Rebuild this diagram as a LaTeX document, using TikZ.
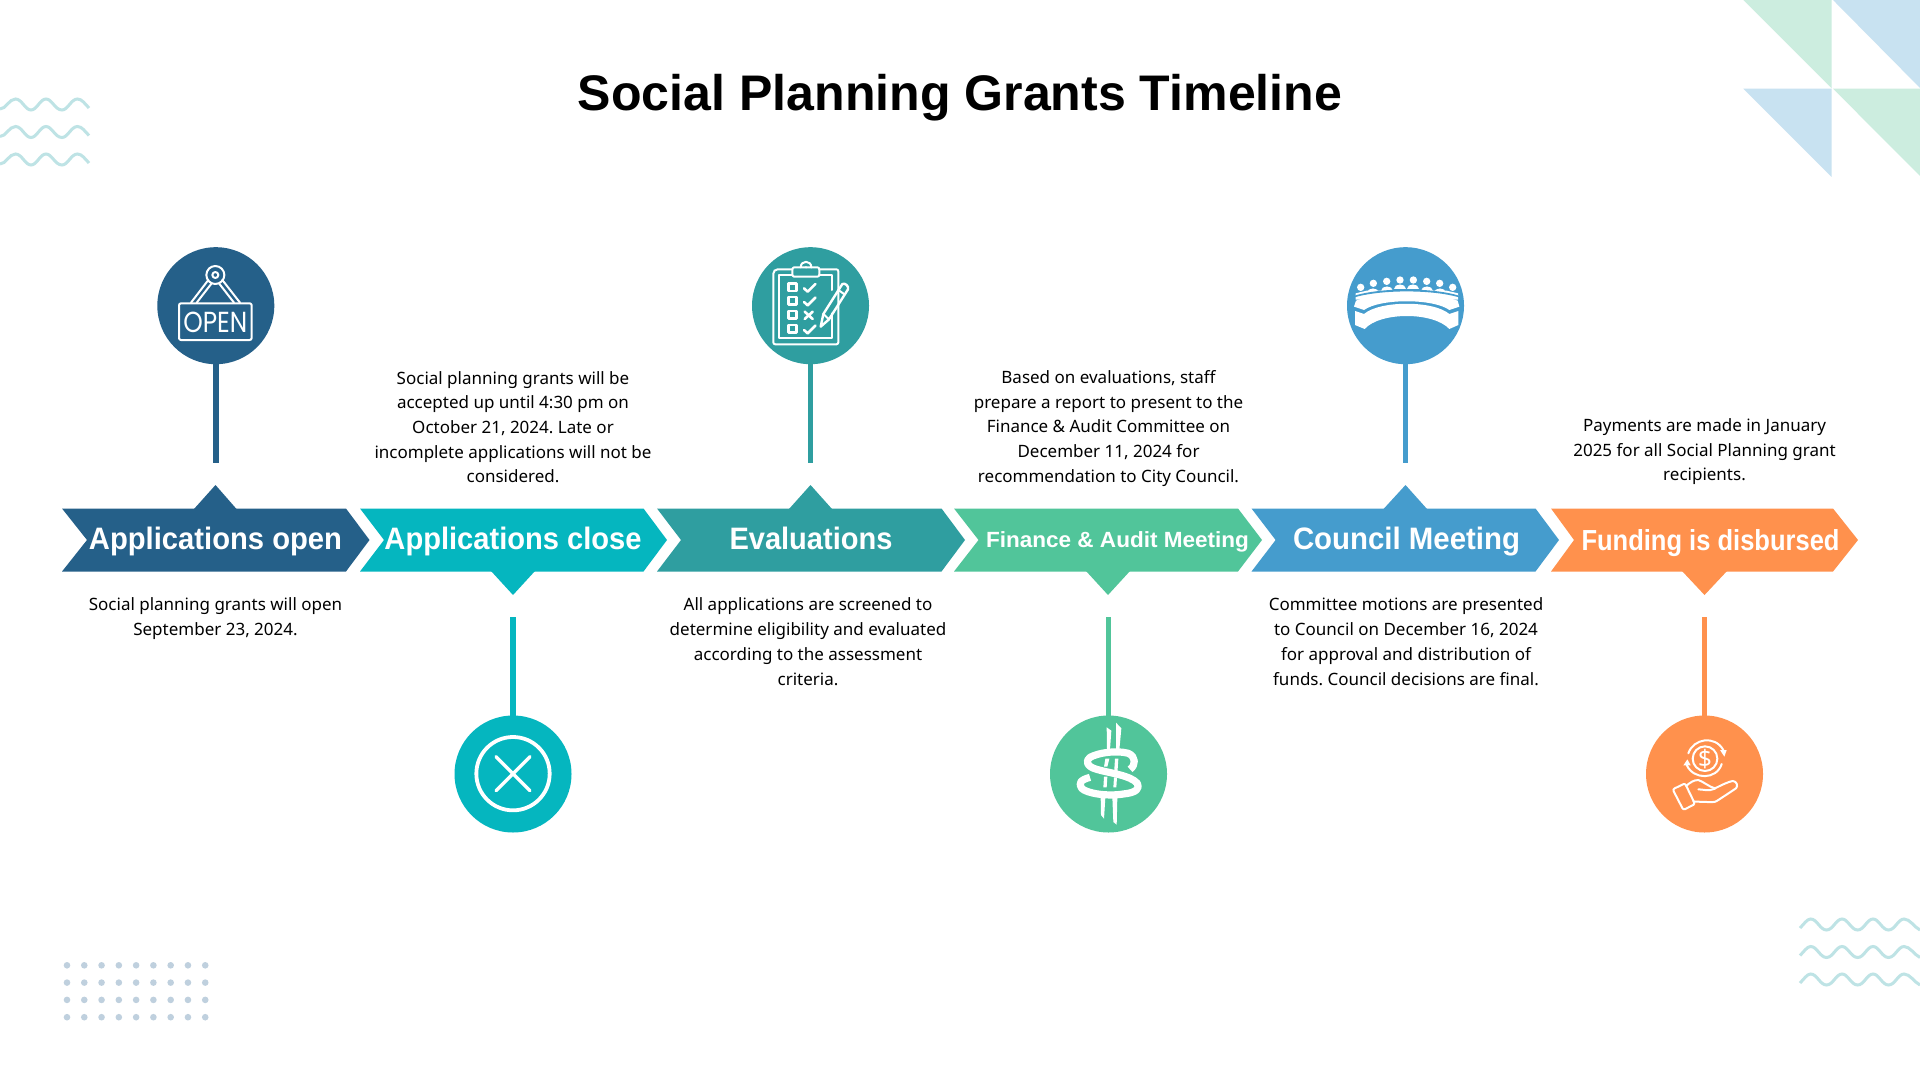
\documentclass[tikz,border=0pt]{standalone}
\usepackage{fontspec}
\usetikzlibrary{arrows.meta}
\setmainfont{Noto Sans}
\newfontfamily\headfont{Liberation Sans}
\newfontfamily\signfont{Poppins}
\definecolor{cA}{HTML}{256089}
\definecolor{cB}{HTML}{05B6BF}
\definecolor{cC}{HTML}{2F9EA0}
\definecolor{cD}{HTML}{51C59A}
\definecolor{cE}{HTML}{459CCD}
\definecolor{cF}{HTML}{FF914D}
\definecolor{waveC}{HTML}{BEE3E5}
\definecolor{dotC}{HTML}{BFD0DE}
\definecolor{triG}{HTML}{CCEDDF}
\definecolor{triB}{HTML}{C8E2F1}
\tikzset{
  bubble/.style={circle,fill=#1,minimum size=58.5pt,inner sep=0pt,outer sep=0pt},
  stem/.style={draw=#1,line width=2.9pt},
  body/.style={align=center,inner sep=0pt,font=\fontsize{8.5}{12.35}\selectfont\frenchspacing,text=black},
  lab/.style={inner sep=0pt,anchor=base,text=white,font=\fontsize{#1}{#1}\selectfont\headfont\bfseries},
  wave/.style={draw=waveC,line width=1.5pt},
  ink/.style={draw=white,line width=1pt,line cap=round,line join=round},
  icon3/.style={x=0.16667pt,y=-0.16667pt},
}
\newcommand\fitw[2]{\resizebox{#1}{\height}{#2}}
\begin{document}
\begin{tikzpicture}[x=0.5pt,y=-0.5pt]
\useasboundingbox (0,0) rectangle (1920,1080);
\fill[white] (0,0) rectangle (1920,1080);
% corner triangles
\fill[triG] (1743.3,0) -- (1831.7,0) -- (1831.7,88.3) -- cycle;
\fill[triB] (1833,0) -- (1920,0) -- (1920,88) -- cycle;
\fill[triB] (1743.3,88.7) -- (1831.7,88.7) -- (1831.7,177) -- cycle;
\fill[triG] (1833,88.7) -- (1920,88.7) -- (1920,176) -- cycle;
% waves
\foreach \y in {0,27.5,55}{
  \draw[wave,yshift=-\y*0.5pt] (0,109) .. controls (6,109) and (9,99) .. (15.5,99) .. controls (22,99) and (25,110) .. (31,110) .. controls (37,110) and (40,99) .. (46,99) .. controls (52,99) and (55,110) .. (62,110) .. controls (68,110) and (71,99) .. (77.5,99) .. controls (82,99) and (85,104) .. (89,108);
}
\foreach \y in {0,27.5,55}{
  \draw[wave,yshift=-\y*0.5pt] (1800,928) .. controls (1804,924) and (1807,919) .. (1810.7,919) .. controls (1817,919) and (1820,930) .. (1826.5,930) .. controls (1833,930) and (1836,919) .. (1842,919) .. controls (1848,919) and (1851,930) .. (1857.7,930) .. controls (1864,930) and (1867,919) .. (1873,919) .. controls (1879,919) and (1882,930) .. (1888.5,930) .. controls (1895,930) and (1898,919) .. (1904,919) .. controls (1910,919) and (1914,927) .. (1920,930);
}
% dots
\foreach \i in {0,...,8}\foreach \j in {0,...,3}
  \fill[dotC] (67+\i*17.28,965.3+\j*17.3) circle (3.3);
% title
\node[inner sep=0pt,anchor=base] (title) at (960,110.5) {\headfont\bfseries\fontsize{25}{25}\selectfont\resizebox{382pt}{\height}{Social Planning Grants Timeline}};
% chevrons
\fill[cA] (62,508.5) -- (346,508.5) -- (369.5,540) -- (346,571.5) -- (62,571.5) -- (87,540) -- cycle;
\fill[cA] (194,509) -- (215.5,485) -- (236.5,509) -- cycle;
\fill[cB] (360,508.5) -- (643.5,508.5) -- (667,540) -- (643.5,571.5) -- (360,571.5) -- (384,540) -- cycle;
\fill[cB] (491,571) -- (513,595) -- (535,571) -- cycle;
\fill[cC] (657,508.5) -- (941.5,508.5) -- (965,540) -- (941.5,571.5) -- (657,571.5) -- (681,540) -- cycle;
\fill[cC] (789,509) -- (810.5,485) -- (832,509) -- cycle;
\fill[cD] (954,508.5) -- (1238,508.5) -- (1262,540) -- (1238,571.5) -- (954,571.5) -- (978.5,540) -- cycle;
\fill[cD] (1086,571) -- (1108,595) -- (1130,571) -- cycle;
\fill[cE] (1251.5,508.5) -- (1535.5,508.5) -- (1559,540) -- (1535.5,571.5) -- (1251.5,571.5) -- (1275.6,540) -- cycle;
\fill[cE] (1383.5,509) -- (1405.5,485) -- (1427,509) -- cycle;
\fill[cF] (1551,508.5) -- (1833,508.5) -- (1858,540) -- (1833,571.5) -- (1551,571.5) -- (1574,540) -- cycle;
\fill[cF] (1682,571) -- (1704.5,595) -- (1727,571) -- cycle;
% chevron labels
\node[lab=15.5] (l1) at (215.5,549.5) {\fitw{126.5pt}{Applications open}};
\node[lab=15.5] (l2) at (513,549.5) {\fitw{128.5pt}{Applications close}};
\node[lab=15.5] (l3) at (811,549.5) {\fitw{81.5pt}{Evaluations}};
\node[lab=11] (l4) at (1117.5,547) {\fitw{131.5pt}{Finance \& Audit Meeting}};
\node[lab=15.5] (l5) at (1406.5,549.5) {\fitw{113.5pt}{Council Meeting}};
\node[lab=14.5] (l6) at (1710.5,550.5) {\fitw{129pt}{Funding is disbursed}};
% body text
\node[body] (t1) at (215.5,618.4) {Social planning grants will open\\September 23, 2024.};
\node[body] (t2) at (513,427.2) {Social planning grants will be\\accepted up until 4:30 pm on\\October 21, 2024. Late or\\incomplete applications will not be\\considered.};
\node[body] (t3) at (808,641.7) {All applications are screened to\\determine eligibility and evaluated\\according to the assessment\\criteria.};
\node[body] (t4) at (1108.5,428.4) {Based on evaluations, staff\\prepare a report to present to the\\Finance \& Audit Committee on\\December 11, 2024 for\\recommendation to City Council.};
\node[body] (t5) at (1406,641.7) {Committee motions are presented\\to Council on December 16, 2024\\for approval and distribution of\\funds. Council decisions are final.};
\node[body] (t6) at (1704.5,451.7) {Payments are made in January\\2025 for all Social Planning grant\\recipients.};
% bubbles and stems
\node[bubble=cA] (c1) at (215.8,305.7) {};
\node[bubble=cB] (c2) at (513,774) {};
\node[bubble=cC] (c3) at (810.5,305.7) {};
\node[bubble=cD] (c4) at (1108.5,774) {};
\node[bubble=cE] (c5) at (1405.5,305.7) {};
\node[bubble=cF] (c6) at (1704.5,774) {};
\coordinate (e1) at (215.8,462.5);
\coordinate (e2) at (513,617);
\coordinate (e3) at (810.5,462.5);
\coordinate (e4) at (1108.5,617);
\coordinate (e5) at (1405.5,462.5);
\coordinate (e6) at (1704.5,617);
\draw[stem=cA] (c1) -- (e1);
\draw[stem=cB] (c2) -- (e2);
\draw[stem=cC] (c3) -- (e3);
\draw[stem=cD] (c4) -- (e4);
\draw[stem=cE] (c5) -- (e5);
\draw[stem=cF] (c6) -- (e6);
% OPEN sign
\begin{scope}[shift={(130,230)},icon3]
\draw[ink] (256,135) circle (27);
\draw[ink] (256,135) circle (9);
\draw[ink,rounded corners=1pt] (147,220) rectangle (365,330);
\draw[ink] (235,150) -- (183,218) (245,160) -- (200,218);
\draw[ink] (277,150) -- (330,218) (267,160) -- (312,218);
\node[inner sep=0pt,text=white] (opn) at (256,276) {\signfont\fontsize{14.5}{14.5}\selectfont\resizebox{32pt}{\height}{OPEN}};
\end{scope}
% clipboard
\begin{scope}[shift={(730,230)},icon3]
\draw[ink,rounded corners=1pt] (187,118) -- (137,118) -- (130,125) -- (130,343) -- (325,343) -- (325,118) -- (268,118);
\draw[ink] (187,135) -- (148,135) -- (148,325) -- (305,325) -- (305,250);
\draw[ink] (305,180) -- (305,135) -- (268,135);
\draw[ink,rounded corners=1pt] (187,112) rectangle (268,140);
\draw[ink] (212,112) .. controls (212,90) and (244,90) .. (244,112);
\fill[white] (228,112) circle (3.5);
\foreach \yy in {160,201,243,285}
  \draw[ink,line width=1.2pt] (176,\yy) rectangle (200,\yy+23);
\foreach \yy in {160,201,285}
  \draw[ink,line width=1.3pt] (222,\yy+15) -- (233,\yy+25) -- (256,\yy+2);
\draw[ink,line width=1.3pt] (224,245) -- (248,267) (248,245) -- (224,267);
\draw[ink,line width=1.2pt] (272,290) -- (280,252) -- (337,162) .. controls (345,158) and (357,168) .. (354,178) -- (297,268) -- cycle;
\draw[ink] (280,252) -- (297,268) (325,180) -- (342,192);
\end{scope}
% council table
\begin{scope}[shift={(1330,230)},icon3]
\foreach \xx/\yy in {92/172,130/160,170/154,210/150,250/150,290/154,329/160,368/172}{
  \fill[white] (\xx,\yy) circle (11);
  \fill[white] (\xx-18,\yy+28) .. controls (\xx-18,\yy+10) and (\xx+18,\yy+10) .. (\xx+18,\yy+28) -- cycle;
}
\fill[white] (77,209) -- (77,190) -- (110,182) -- (350,182) -- (384,190) -- (384,209) -- cycle;
\fill[cE] (70,198) .. controls (150,172) and (310,172) .. (390,198) -- (390,203) .. controls (310,178) and (150,178) .. (70,203) -- cycle;
\fill[white] (78,212) .. controls (150,184) and (305,184) .. (383,212) -- (388,230) -- (358,240) .. controls (310,205) and (150,205) .. (102,240) -- (72,230) -- cycle;
\fill[white] (75,243) -- (102,252) .. controls (150,211) and (310,211) .. (358,252) -- (385,243) -- (385,285) -- (358,297) .. controls (310,245) and (150,245) .. (104,297) -- (75,285) -- cycle;
\end{scope}
% close icon
\begin{scope}[shift={(440,700)},icon3]
\draw[ink,line width=1.9pt] (219,221) circle (110);
\draw[ink,line width=1.7pt] (168,170) -- (270,272) (270,170) -- (168,272);
\end{scope}
% dollar
\begin{scope}[shift={(1030,700)},icon3]
\fill[white] (230,82) -- (244,92) -- (240,148) -- (231,148) -- cycle;
\fill[white] (258,68) -- (274,85) -- (268,150) -- (258,150) -- cycle;
\fill[white] (226,176) -- (238,176) -- (232,200) -- (222,200) -- cycle;
\fill[white] (255,176) -- (265,176) -- (262,222) -- (252,222) -- cycle;
\fill[white] (222,230) -- (232,230) -- (230,262) -- (220,262) -- cycle;
\fill[white] (252,232) -- (261,232) -- (259,262) -- (250,262) -- cycle;
\fill[white] (212,292) -- (226,292) -- (222,356) -- (213,345) -- cycle;
\fill[white] (247,292) -- (262,292) -- (260,374) -- (250,366) -- cycle;
\draw[white,line width=3.6pt,line cap=butt,line join=round] (300,208) .. controls (318,195) and (318,170) .. (295,160) .. controls (260,150) and (205,158) .. (180,172) .. controls (165,182) and (170,200) .. (200,208) .. controls (240,220) and (300,225) .. (322,250) .. controls (330,265) and (320,278) .. (280,282) .. controls (230,290) and (170,280) .. (155,265) .. controls (145,250) and (150,240) .. (180,232);
\end{scope}
% hand with coin
\begin{scope}[shift={(1630,700)},icon3]
\draw[ink] (225,176) circle (37);
\draw[ink] (175,160) .. controls (190,115) and (255,105) .. (280,150);
\draw[ink] (275,192) .. controls (260,240) and (190,240) .. (170,195);
\fill[white] (270,150) -- (290,150) -- (283,170) -- cycle;
\fill[white] (160,196) -- (182,196) -- (172,178) -- cycle;
\node[inner sep=0pt,text=white,font=\fontsize{12}{12}\selectfont\bfseries] (dlr) at (225,176) {\$};
\draw[ink,rounded corners=1pt] (128,268) -- (165,250) -- (195,312) -- (160,330) -- cycle;
\draw[ink] (168,258) .. controls (180,248) and (190,240) .. (205,240) .. controls (220,245) and (240,262) .. (255,265) .. controls (275,255) and (295,245) .. (308,243) .. controls (320,243) and (325,258) .. (318,265) -- (265,300) .. controls (255,310) and (240,305) .. (190,305);
\draw[ink] (205,268) .. controls (220,268) and (235,275) .. (255,266);
\end{scope}
\end{tikzpicture}
\end{document}
